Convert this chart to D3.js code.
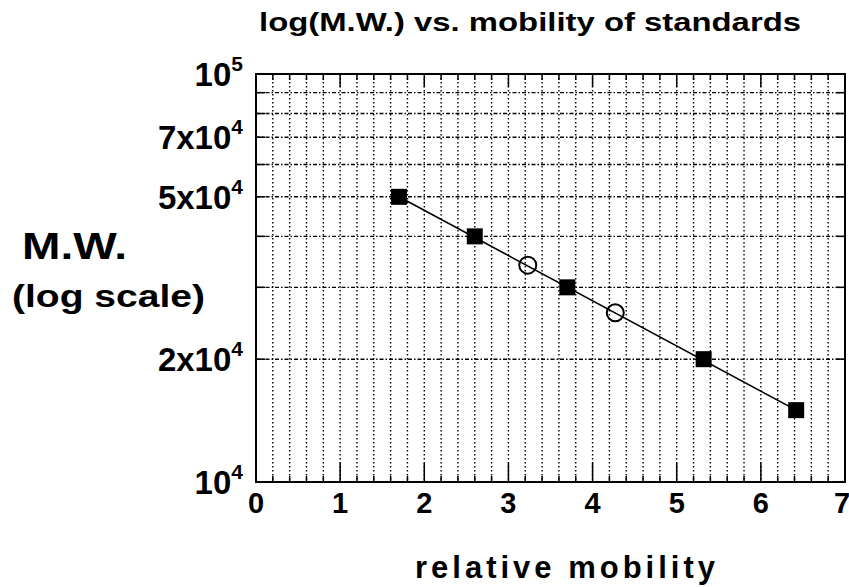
<!DOCTYPE html>
<html>
<head>
<meta charset="utf-8">
<script src="https://cdn.jsdelivr.net/npm/d3@7"></script>
<style>
  body { margin: 0; background: #fff; }
  svg { display: block; font-family: "Liberation Sans", Arial, sans-serif; font-weight: bold; }
  .grid-v { stroke: #000; stroke-width: 1.4; stroke-dasharray: 1.5 2.5; }
  .grid-h { stroke: #000; stroke-width: 1.4; stroke-dasharray: 4 2 1.5 2; }
</style>
</head>
<body>
<div id="chart"></div>
<script>
// ---- datos ----
const standardsMobility = [1.7, 2.6, 3.7, 5.32, 6.42];
const standardsMW = [50000, 40000, 30000, 20000, 15000];
const unknownMobility = [3.23, 4.27];
const unknownMW = [34000, 26000];
const fitMobility = [1.7, 6.42];
const fitMW = [50000, 15000];

const xTicks = [0, 1, 2, 3, 4, 5, 6, 7];
const yGridValues = [20000, 30000, 40000, 50000, 60000, 70000, 80000, 90000];
const yLabels = [
  { v: 100000, m: "", e: "5" },
  { v: 70000, m: "7x", e: "4" },
  { v: 50000, m: "5x", e: "4" },
  { v: 20000, m: "2x", e: "4" },
  { v: 10000, m: "", e: "4" }
];

// ---- tamaño ----
const W = 849, H = 587;
const margin = { top: 74, right: 4, bottom: 105, left: 256 };
const width = W - margin.left - margin.right;
const height = H - margin.top - margin.bottom;

const svg = d3.select("#chart").append("svg")
  .attr("width", W).attr("height", H);

const g = svg.append("g").attr("transform", `translate(${margin.left},${margin.top})`);

const x = d3.scaleLinear().domain([0, 7]).range([0, width]);
const y = d3.scaleLog().domain([10000, 100000]).range([height, 0]);

// ---- rejilla ----
const minorX = d3.range(1, 35).map(i => i / 5);
g.selectAll(".grid-v").data(minorX).enter().append("line")
  .attr("class", "grid-v")
  .attr("x1", d => x(d)).attr("x2", d => x(d))
  .attr("y1", 0).attr("y2", height);

g.selectAll(".grid-h").data(yGridValues).enter().append("line")
  .attr("class", "grid-h")
  .attr("x1", 0).attr("x2", width)
  .attr("y1", d => y(d)).attr("y2", d => y(d));

// ---- ticks ----
// eje x: menores cada 0.2, mayores en enteros (abajo y arriba)
const isMajor = d => Math.abs(d - Math.round(d)) < 1e-6;
g.selectAll(".tick-xb").data(minorX).enter().append("line")
  .attr("x1", d => x(d)).attr("x2", d => x(d))
  .attr("y1", height)
  .attr("y2", d => height - (isMajor(d) ? 19 : 6))
  .attr("stroke", "#000").attr("stroke-width", 1.5);
g.selectAll(".tick-xt").data(minorX).enter().append("line")
  .attr("x1", d => x(d)).attr("x2", d => x(d))
  .attr("y1", 0)
  .attr("y2", d => (isMajor(d) ? 13 : 6))
  .attr("stroke", "#000").attr("stroke-width", 1.5);
// eje y
g.selectAll(".tick-yl").data(yGridValues).enter().append("line")
  .attr("x1", 0).attr("x2", 9)
  .attr("y1", d => y(d)).attr("y2", d => y(d))
  .attr("stroke", "#000").attr("stroke-width", 1.5);
g.selectAll(".tick-yr").data(yGridValues).enter().append("line")
  .attr("x1", width).attr("x2", width - 9)
  .attr("y1", d => y(d)).attr("y2", d => y(d))
  .attr("stroke", "#000").attr("stroke-width", 1.5);

// marco
g.append("rect")
  .attr("x", 0).attr("y", 0).attr("width", width).attr("height", height)
  .attr("fill", "none").attr("stroke", "#000").attr("stroke-width", 2);

// ---- etiquetas del eje x ----
g.selectAll(".xlab").data(xTicks).enter().append("text")
  .attr("x", d => x(d) - (d === 7 ? 3 : 0)).attr("y", height + 31)
  .attr("text-anchor", "middle")
  .style("font-size", "29px")
  .text(d => d);

// ---- etiquetas del eje y (potencias de 10) ----
const yl = g.selectAll(".ylab").data(yLabels).enter().append("text")
  .attr("x", -13).attr("y", d => y(d.v) + 12)
  .attr("text-anchor", "end")
  .style("font-size", "33px");
yl.append("tspan").text(d => d.m + "10");
yl.append("tspan").attr("dy", -15).style("font-size", "21px").text(d => d.e);

// ---- recta de ajuste ----
const fit = fitMobility.map((m, i) => [m, fitMW[i]]);
g.append("path").datum(fit)
  .attr("d", d3.line().x(d => x(d[0])).y(d => y(d[1])))
  .attr("fill", "none").attr("stroke", "#000").attr("stroke-width", 1.6);

// ---- estándares (cuadrados) ----
const sq = 16;
g.selectAll(".std").data(standardsMobility).enter().append("rect")
  .attr("x", (d) => x(d) - sq / 2)
  .attr("y", (d, i) => y(standardsMW[i]) - sq / 2)
  .attr("width", sq).attr("height", sq)
  .attr("fill", "#000");

// ---- incógnitas (círculos abiertos) ----
g.selectAll(".unk").data(unknownMobility).enter().append("circle")
  .attr("cx", d => x(d))
  .attr("cy", (d, i) => y(unknownMW[i]))
  .attr("r", 8.5)
  .attr("fill", "none").attr("stroke", "#000").attr("stroke-width", 2);

// ---- títulos ----
svg.append("text")
  .attr("x", 259).attr("y", 31)
  .attr("textLength", 542).attr("lengthAdjust", "spacingAndGlyphs")
  .style("font-size", "25px")
  .text("log(M.W.) vs. mobility of standards");

svg.append("text")
  .attr("x", 22).attr("y", 259)
  .attr("textLength", 105).attr("lengthAdjust", "spacingAndGlyphs")
  .style("font-size", "37px")
  .text("M.W.");

svg.append("text")
  .attr("x", 12).attr("y", 307)
  .attr("textLength", 193).attr("lengthAdjust", "spacingAndGlyphs")
  .style("font-size", "32px")
  .text("(log scale)");

svg.append("text")
  .attr("x", 415).attr("y", 578)
  .attr("textLength", 300).attr("lengthAdjust", "spacing")
  .style("font-size", "31px")
  .text("relative mobility");
</script>
</body>
</html>
